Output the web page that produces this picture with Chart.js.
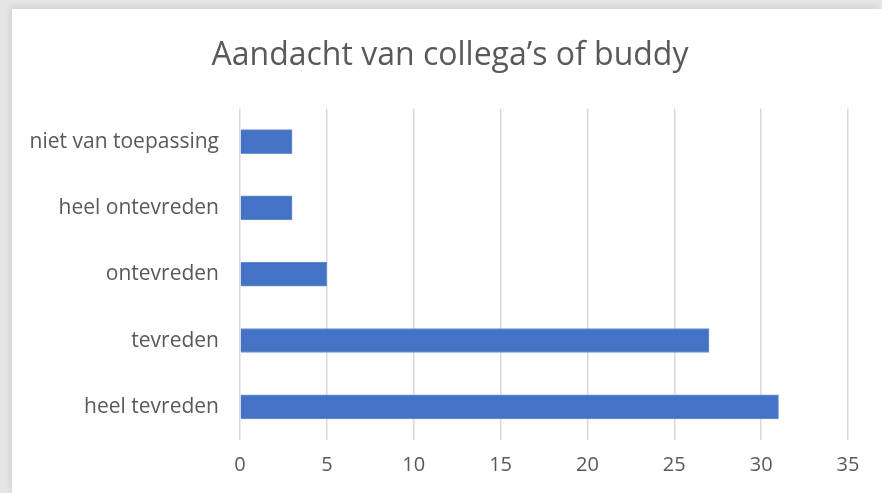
<!DOCTYPE html>
<html>
<head>
<meta charset="utf-8">
<script src="https://cdn.jsdelivr.net/npm/chart.js@4"></script>
<style>
  html, body { margin: 0; padding: 0; }
  body { width: 882px; height: 493px; background: #e6e6e6; position: relative; overflow: hidden; }
  #frame { position: absolute; left: 12px; top: 9px; width: 870px; height: 484px; background: #fff; box-shadow: -3px -3px 6px rgba(0,0,0,0.08); }
  canvas { display: block; }
</style>
</head>
<body>
<div id="frame"><canvas id="c" width="870" height="484"></canvas></div>
<script>
// --- DATA ---
const chartTitle = 'Aandacht van collega\u2019s of buddy';
const categories = ['niet van toepassing', 'heel ontevreden', 'ontevreden', 'tevreden', 'heel tevreden'];
const counts = [3, 3, 5, 27, 31];
const xTicks = [0, 5, 10, 15, 20, 25, 30, 35];

const fontFamily = '"Open Sans", "Liberation Sans", sans-serif';
const textColor = '#595959';

// nudge the title a bit right, like the Excel original
const titleNudge = {
    id: 'titleNudge',
    afterLayout(chart) {
        if (chart.titleBlock) { chart.titleBlock.left += 40; }
    }
};

new Chart(document.getElementById('c'), {
    type: 'bar',
    data: {
        labels: categories,
        datasets: [{
            data: counts,
            backgroundColor: '#4472c4',
            borderColor: '#6f93d3',
            borderWidth: 1,
            barThickness: 24
        }]
    },
    options: {
        indexAxis: 'y',
        responsive: false,
        animation: false,
        layout: { padding: { left: 0, right: 34, top: 0, bottom: 0 } },
        plugins: {
            legend: { display: false },
            tooltip: { enabled: false },
            title: {
                display: true,
                text: chartTitle,
                color: textColor,
                font: { family: fontFamily, size: 32, weight: 'normal', lineHeight: 1.2 },
                padding: { top: 28, bottom: 33 }
            }
        },
        scales: {
            x: {
                min: xTicks[0],
                max: xTicks[xTicks.length - 1],
                afterBuildTicks: axis => { axis.ticks = xTicks.map(v => ({ value: v })); },
                afterFit: axis => { axis.height = 53; },
                grid: { color: '#d9d9d9', lineWidth: 1.5, drawTicks: false },
                border: { display: false },
                ticks: { color: textColor, padding: 13, font: { family: fontFamily, size: 20 } }
            },
            y: {
                afterFit: axis => { axis.width = 228; },
                grid: { display: false, drawTicks: false },
                border: { display: false },
                ticks: { color: textColor, padding: 21, font: { family: fontFamily, size: 21 } }
            }
        }
    },
    plugins: [titleNudge]
});
</script>
</body>
</html>
